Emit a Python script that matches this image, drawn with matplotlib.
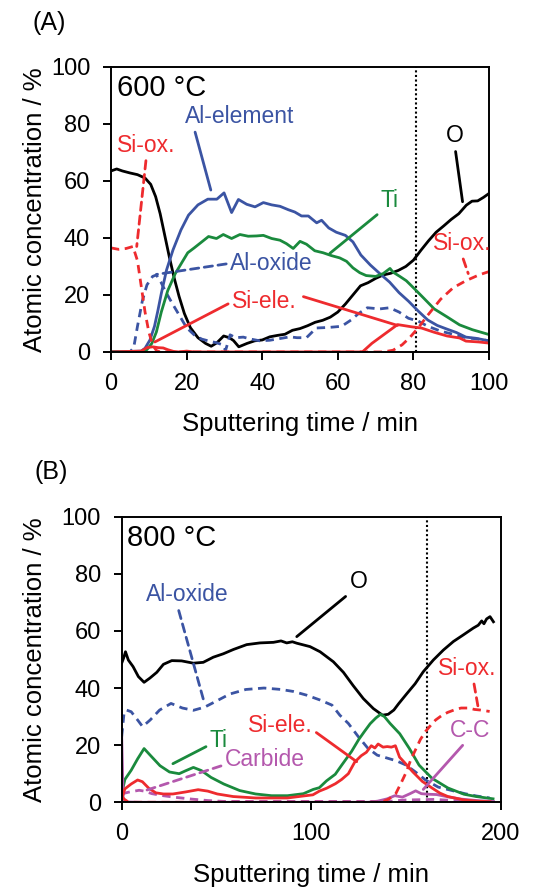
import matplotlib
matplotlib.use("Agg")
import matplotlib.pyplot as plt

plt.rcParams["font.family"] = ["Liberation Sans", "DejaVu Sans"]

# ---- (A) 600 °C depth profile ----
a_o_t = [0, 1.5, 3, 5, 7, 9, 10.5, 11.8, 13, 14.2, 15.4, 16.7, 18, 19.4, 21, 23, 25, 26.5,
         28, 29.8, 31.3, 32.4, 33.8, 36, 38, 40, 42, 44, 46, 48, 50, 52, 54, 56, 58, 60,
         62, 64, 66, 68, 70, 72, 74, 76, 78, 80, 82, 84, 86, 88, 90, 92, 94, 95.5, 97, 98.5, 100]
a_o = [63.5, 64.2, 63.5, 62.8, 62.2, 61, 58.8, 54.5, 48.5, 41, 33.5, 26, 19.5, 13.5, 8.5, 5, 3, 2,
       3.2, 5.6, 5, 4, 1.8, 3, 3.9, 4.2, 5.3, 5.8, 6.2, 7.6, 8.2, 9.2, 10.4, 11.1, 12.2, 14,
       16.8, 20, 23.2, 24.3, 25.8, 27, 27.6, 28.6, 30, 32.2, 35.7, 39, 42, 44.2, 46.5, 48.5, 51.5, 52.9, 53, 54.2, 55.6]

a_alel_t = [0, 8, 9, 10.3, 11.5, 12.4, 13.3, 14.7, 16.4, 18.5, 20.5, 23, 25.6, 28, 29.9, 31.9,
            33.7, 35.9, 38.1, 40.3, 42.5, 44.7, 46.9, 48.6, 50.4, 52.2, 54.4, 55.7, 57.6, 59.6,
            62, 64, 66.1, 68.6, 71.1, 73.7, 76.2, 78.7, 81.3, 83.8, 86.3, 88.9, 91.4, 93.9, 96.5, 100]
a_alel = [0, 0.3, 1.3, 4.2, 9, 14.5, 20.5, 28.8, 35.8, 42.8, 48, 51.6, 53.6, 53.6, 55.8, 48.9,
          53.5, 51.8, 50.9, 52.4, 51.6, 51.1, 49.9, 49.1, 47.7, 47.7, 45.3, 46.2, 43.5, 42,
          40.9, 38.6, 34, 30.5, 27.5, 24.5, 20.8, 17.8, 14.3, 11.2, 9.3, 8, 6.8, 5.2, 4.8, 3.9]

a_alox_t = [0, 5, 6, 7, 8.3, 9.5, 11, 12, 13.2, 14.5, 16, 18, 20, 22, 24, 26, 28, 29.5, 30.3,
            31.5, 33, 35, 37, 39.4, 42, 44.7, 47.3, 49.2, 51.7, 54.3, 57.6, 61, 63.5, 65.5,
            67.8, 71.1, 73.7, 76.2, 78.7, 81.3, 83.8, 87.2, 90.5, 93.9, 97.3, 100]
a_alox = [0, 0, 1.5, 9, 18, 23.5, 26.5, 27, 24.5, 21, 17.5, 13, 8.5, 6, 4.5, 3.8, 3.2, 2.5, 0.5,
          6, 5, 5.2, 4.5, 3.9, 4.1, 4.7, 5.3, 5, 5, 8.4, 8.6, 9, 11.2, 13.5,
          15.5, 15.1, 15.5, 14, 11.8, 10.8, 9, 7.3, 6.2, 5, 4.5, 3.9]

a_ti_t = [0, 8, 9.5, 10.8, 12, 13.3, 15, 17, 18.8, 20.3, 22, 24, 25.8, 27.9, 29.7, 31.9, 34.1,
          36.3, 38.5, 40.3, 42.5, 44.7, 46.4, 48.2, 50, 51.7, 53.9, 56.1, 58.3, 60.5, 62.3, 64,
          65.8, 67.5, 70, 72, 73.8, 74.6, 76.4, 78.1, 80.4, 83, 85.5, 88.9, 92.2, 95.6, 100]
a_ti = [0, 0, 0.8, 3, 7, 14, 21.5, 27.5, 31.5, 34.8, 36.5, 38.6, 40.5, 39.8, 41.2, 39.8, 41.2,
        40.6, 40.7, 40.9, 39.8, 39.2, 38, 36.3, 38.8, 37.8, 35.5, 34.8, 33.8, 33, 31.8, 29.5,
        27.8, 26.8, 26.5, 27.5, 29.3, 28, 26.5, 25, 22, 18.5, 15.1, 12.3, 9.5, 7.8, 6.1]

a_siox_t = [0, 2, 4, 5.8, 7, 8, 9, 10, 11, 12, 13, 40, 72, 74.6, 77, 79, 81.3, 83.8, 87.2,
            90.5, 93.9, 97.3, 100]
a_siox = [36.5, 36, 36.3, 37, 32, 23, 14, 7, 2.5, 0.5, 0, 0, 0, 0.6, 2.5, 5, 8.5, 12.9, 18.5,
          22.5, 25, 27, 28.2]

a_siel_t = [0, 8, 9.5, 11, 12.5, 13.8, 15, 16.5, 18, 20, 22, 40, 66.5, 69, 72.5, 75.8, 79.6,
            82.1, 85.5, 88.9, 92.2, 93.9, 97.3, 100]
a_siel = [0, 0.3, 1.5, 1.8, 1.5, 1.4, 0.8, 0.2, 0, 0.3, 0, 0, 0, 3, 6.4, 9.6, 8.8,
          8.4, 6.9, 5.6, 4.9, 3.8, 3.5, 3.1]

# ---- (B) 800 °C depth profile ----
b_o_t = [0, 1, 2, 3.5, 6, 8.8, 11.8, 14.9, 18.5, 22, 26.4, 31.6, 37.8, 43, 48.3, 53.6, 58.9,
         65.9, 72.9, 80, 84, 87, 90, 92.3, 99.3, 104.6, 111.6, 116.9, 122.1, 127.4, 132.7,
         137.5, 140.5, 143.5, 146, 150.3, 154.7, 159, 164.3, 169.6, 174.9, 180.1, 185.4, 188,
         189.8, 191, 192.4, 194.2, 196]
b_o = [48.7, 50.5, 52.7, 49.8, 47.5, 44, 42, 43.5, 45.5, 48.3, 49.6, 49.5, 48.7, 49, 50.8, 52,
       53.5, 55.2, 55.8, 56, 56.5, 55.8, 56.2, 55.7, 54.5, 52.7, 49.2, 45.5, 40.8, 36.3, 32.8,
       30.5, 30.8, 32.3, 34.5, 38, 41.5, 45.7, 49.8, 53.3, 56.3, 58.6, 61, 62,
       63.5, 62.5, 64.2, 65, 63.2]

b_alox_t = [0, 1.2, 2.5, 5, 8.4, 11, 15, 20, 26, 32, 37.8, 43.7, 50.4, 57, 65.5, 75, 84, 90.5,
            97.5, 104.6, 110.9, 115, 119.5, 124.6, 129.7, 134.7, 139.8, 144.9, 150, 155.1,
            160.2, 166.9, 175.4, 181, 187, 194]
b_alox = [23, 31, 32.3, 31.7, 28.8, 26.5, 28.8, 32.3, 34.6, 33, 32.2, 33.3, 35.6, 37.9, 39.5,
          40, 39.5, 38.8, 37.5, 35.8, 34, 30.5, 27.6, 23.1, 19, 16.5, 15.5, 14.5, 13, 10.5,
          7.8, 5.3, 3.9, 3, 2.2, 1.5]

b_ti_t = [0, 1.7, 5, 8.4, 11.8, 15, 20.2, 25.2, 30.3, 33.6, 37.8, 42, 47.1, 53.8, 62.2, 70.6,
          79, 87.4, 95.8, 101, 104.2, 108, 112.6, 116, 121.2, 125, 128, 131, 134, 136.5,
          138.5, 141.5, 146.6, 151.7, 156.8, 163.6, 172, 180.5, 187, 195.8]
b_ti = [3, 8, 11.2, 15.2, 18.8, 16.5, 12.8, 10.6, 10, 11, 12.2, 11.1, 8.7, 6.4, 4.1, 2.9,
        2.3, 2.3, 3, 4.5, 5.1, 7.5, 9.8, 13, 17.8, 22, 24.8, 27.5, 29.5, 30.8,
        30, 27.6, 24, 18.8, 13, 8.4, 5, 2.8, 2, 1.2]

b_siel_t = [0, 1.7, 5, 8.4, 10.9, 14.3, 18, 22, 27, 33.6, 40.3, 45.4, 50.4, 58.8, 70.6, 87.4,
            95.8, 100.8, 104.2, 108, 112.7, 116, 119.5, 122.9, 126.3, 129, 131.6, 133.5,
            135.2, 137.8, 140, 142.2, 144.3, 146.5, 149, 153.4, 158.5, 163.6, 167.8, 172,
            180.5, 187, 194.2]
b_siel = [1.2, 4.7, 6.4, 7.8, 7.2, 4.9, 3.3, 2.9, 2.9, 3.6, 4.4, 3.9, 2.9, 2, 1.5, 1.5,
          2.2, 2.6, 3.9, 4.9, 6.5, 8, 10, 14.1, 16.3, 17.5, 19.8, 19,
          20.4, 19.3, 19.5, 19.3, 19.8, 15.8, 14, 10.7, 7.3, 5, 3.2, 2,
          0.8, 0.4, 0.2]

b_siox_t = [0, 1.5, 3, 6, 135, 138, 141, 144.5, 147.5, 150, 152.5, 155, 157.5, 160.2, 163,
            165.5, 169, 172, 176, 179, 183, 186, 189, 194]
b_siox = [2, 1, 0.3, 0, 0, 0.3, 1.2, 3, 7, 10.5, 15, 18.5, 22, 24.8, 27,
          28.8, 30.5, 31.5, 32.5, 33, 33, 32.5, 32.3, 31.8]

b_carb_t = [0, 3.4, 6.7, 9.2, 11.8, 16, 21.8, 28.6, 37, 45.4, 53.8, 80, 100, 120, 140, 150,
            165, 175, 180, 196]
b_carb = [2.9, 3.5, 3.9, 4.2, 3.9, 3, 2.3, 1.7, 1.1, 0.6, 0.3, 0.3, 0.3, 0.3, 0.3, 0.8,
          1, 0.6, 0.4, 0.3]

b_cc_t = [0, 0.8, 3, 10, 130, 135, 140, 144, 148, 152, 155, 158, 162, 166, 172, 179, 189, 196]
b_cc = [23, 0.6, 0.1, 0, 0, 0.4, 1.2, 2.3, 1.8, 3, 4, 3, 2.8, 2.7, 1.9, 1.1, 0.5, 0.3]

BLACK = "#000000"
BLUE = "#3b54a3"
GREEN = "#1a8a3d"
RED = "#ee2b2e"
MAGENTA = "#b458ad"
LW = 2.0
DASH = (0, (3, 2))


def leader(ax, text, xytext, xy, color, relpos, ls="-", size=16.5):
    ax.annotate(text, xy=xy, xytext=xytext, color=color, fontsize=size,
                ha="center", va="center",
                arrowprops=dict(arrowstyle="-", color=color, lw=LW, linestyle=ls,
                                relpos=relpos, shrinkA=1, shrinkB=0))


def style_axes(ax, xmax, xticks, ylabel_x, temp):
    ax.set_xlim(0, xmax)
    ax.set_ylim(0, 100)
    ax.set_xticks(xticks)
    ax.set_yticks(range(0, 101, 20))
    ax.tick_params(direction="out", length=5.5, width=1.4, labelsize=17, pad=9.5,
                   top=False, right=False)
    for s in ax.spines.values():
        s.set_linewidth(1.4)
    ax.set_xlabel("Sputtering time / min", fontsize=18.5)
    ax.set_ylabel("Atomic concentration / %", fontsize=18.5)
    ax.xaxis.set_label_coords(0.5, -0.212)
    ax.yaxis.set_label_coords(ylabel_x, 0.5)
    ax.text(0.015, 0.975, temp, transform=ax.transAxes, va="top", ha="left", fontsize=21)


fig = plt.figure(figsize=(5.45, 8.91), dpi=100)

# panel A
ax1 = fig.add_axes([0.2037, 0.605, 0.6936, 0.3199])
ax1.axvline(80.7, color=BLACK, lw=1.5, linestyle=(0, (1, 1.2)))
ax1.plot(a_o_t, a_o, color=BLACK, lw=LW)
ax1.plot(a_alox_t, a_alox, color=BLUE, lw=LW, linestyle=DASH)
ax1.plot(a_alel_t, a_alel, color=BLUE, lw=LW)
ax1.plot(a_ti_t, a_ti, color=GREEN, lw=LW)
ax1.plot(a_siox_t, a_siox, color=RED, lw=LW, linestyle=DASH)
ax1.plot(a_siel_t, a_siel, color=RED, lw=LW)
style_axes(ax1, 100, range(0, 101, 20), -0.17, "600 °C")

leader(ax1, "Al-element", (34.1, 82.6), (26.4, 56.8), BLUE, (0.08, 0))
leader(ax1, "Si-ox.", (9.2, 72.6), (6.8, 37), RED, (0.51, 0), ls=DASH)
leader(ax1, "O", (91, 75.8), (93, 52.7), BLACK, (0.5, 0))
leader(ax1, "Ti", (73.8, 53.3), (57.9, 34.6), GREEN, (0, 0))
leader(ax1, "Al-oxide", (42.5, 31.1), (12, 27.2), BLUE, (0, 0.5), ls=DASH)
leader(ax1, "Si-ele.", (40.6, 17.6), (11.6, 3.5), RED, (0, 0.5))
ax1.annotate("", xy=(75.8, 9.3), xytext=(50.9, 19.4),
             arrowprops=dict(arrowstyle="-", color=RED, lw=LW, shrinkA=0, shrinkB=0))
leader(ax1, "Si-ox.", (92.8, 38.1), (94.5, 27.5), RED, (0.5, 0), ls=DASH)

# panel B
ax2 = fig.add_axes([0.2233, 0.0996, 0.696, 0.3205])
ax2.axvline(161, color=BLACK, lw=1.5, linestyle=(0, (1, 1.2)))
ax2.plot(b_o_t, b_o, color=BLACK, lw=LW)
ax2.plot(b_alox_t, b_alox, color=BLUE, lw=LW, linestyle=DASH)
ax2.plot(b_ti_t, b_ti, color=GREEN, lw=LW)
ax2.plot(b_carb_t, b_carb, color=MAGENTA, lw=LW, linestyle=DASH)
ax2.plot(b_cc_t, b_cc, color=MAGENTA, lw=LW)
ax2.plot(b_siox_t, b_siox, color=RED, lw=LW, linestyle=DASH)
ax2.plot(b_siel_t, b_siel, color=RED, lw=LW)
style_axes(ax2, 200, [0, 100, 200], -0.197, "800 °C")

leader(ax2, "O", (124.8, 77.2), (92.3, 58), BLACK, (0, 0))
leader(ax2, "Al-oxide", (34.7, 72.6), (43.7, 34.5), BLUE, (0.38, 0), ls=DASH)
leader(ax2, "Ti", (51.3, 21.8), (27, 13.5), GREEN, (0, 0.3))
leader(ax2, "Carbide", (75.6, 14.8), (12, 4), MAGENTA, (0, 0.3), ls=DASH)
leader(ax2, "Si-ele.", (83.5, 27), (123.9, 14.2), RED, (1, 0.3))
leader(ax2, "Si-ox.", (182.3, 46.9), (188, 33), RED, (0.6, 0), ls=DASH)
leader(ax2, "C-C", (183.7, 25.3), (159, 4.5), MAGENTA, (0.4, 0))

fig.text(0.06, 0.988, "(A)", fontsize=18, va="top", ha="left")
fig.text(0.064, 0.484, "(B)", fontsize=18, va="top", ha="left")

fig.savefig("out.png", dpi=100)
